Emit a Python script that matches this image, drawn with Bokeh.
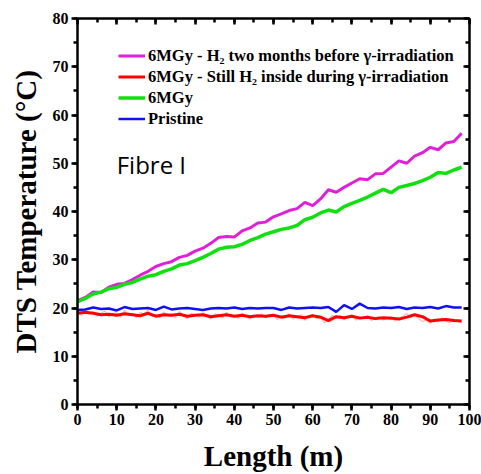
from bokeh.plotting import figure
from bokeh.models import (Range1d, LinearAxis, SingleIntervalTicker, Legend, LegendItem, Label,
                          CustomJSTickFormatter)
from bokeh.embed import file_html
from bokeh.resources import INLINE

# ---- data ----
x_step2 = list(range(0, 100, 2))
magenta = [21.5, 22.2, 23.3, 23.2, 24.3, 24.9, 25.1, 25.9, 26.8, 27.6,
           28.6, 29.2, 29.6, 30.5, 30.9, 31.8, 32.4, 33.4, 34.6, 34.8,
           34.7, 36.0, 36.6, 37.6, 37.8, 38.9, 39.5, 40.2, 40.6, 41.9,
           41.2, 42.6, 44.5, 44.0, 45.0, 45.9, 46.8, 46.6, 47.8, 47.9,
           49.2, 50.5, 50.0, 51.5, 52.2, 53.3, 52.8, 54.2, 54.5, 56.2]
green = [21.3, 22.0, 22.9, 23.3, 24.0, 24.3, 24.9, 25.3, 26.0, 26.6,
         26.9, 27.6, 28.1, 28.9, 29.2, 29.8, 30.5, 31.3, 32.2, 32.6,
         32.7, 33.2, 34.0, 34.6, 35.3, 35.8, 36.3, 36.6, 37.1, 38.3,
         38.8, 39.7, 40.3, 39.9, 41.0, 41.7, 42.3, 43.0, 43.8, 44.6,
         43.9, 45.0, 45.4, 45.8, 46.4, 47.1, 48.1, 47.9, 48.6, 49.2]
red_line = [18.9, 19.1, 18.9, 18.6, 18.7, 18.5, 18.8, 18.6, 18.4, 18.9,
            18.3, 18.6, 18.5, 18.7, 18.3, 18.5, 18.6, 18.2, 18.4, 18.6,
            18.3, 18.5, 18.2, 18.4, 18.3, 18.5, 18.1, 18.4, 18.2, 18.0,
            18.4, 18.1, 17.4, 18.2, 18.0, 18.3, 17.9, 18.1, 17.8, 18.0,
            17.9, 17.7, 18.1, 18.6, 18.2, 17.3, 17.5, 17.6, 17.4, 17.3]
blue = [19.6, 19.7, 20.1, 19.8, 19.9, 19.5, 20.2, 19.8, 19.9, 20.0,
        19.6, 20.3, 19.7, 19.9, 20.0, 19.8, 19.6, 19.9, 20.0, 19.9,
        20.1, 19.8, 20.0, 19.9, 20.0, 20.0, 19.6, 20.1, 19.9, 20.0,
        20.1, 20.0, 20.2, 19.2, 20.6, 19.8, 20.9, 20.0, 19.9, 20.1,
        20.0, 20.2, 19.8, 20.1, 20.0, 20.2, 19.9, 20.4, 20.1, 20.1]
red_pts = [19.6, 18.4, 19.3, 18.7, 19.2, 18.3, 18.9, 19.4, 18.2, 18.8,
           19.0, 18.1, 19.5, 18.5, 18.9, 18.0, 19.1, 18.6, 19.6, 18.2,
           18.7, 17.9, 19.2, 18.4, 18.8, 18.0, 19.3, 18.5, 17.8, 18.9,
           18.6, 18.1, 19.0, 18.3, 17.7, 18.8, 18.5, 17.9, 19.1, 18.2,
           18.6, 17.8, 18.9, 18.4, 17.7, 18.6, 18.1, 18.8, 17.9, 18.5,
           18.7, 17.6, 18.4, 18.0, 18.8, 17.7, 18.3, 18.6, 17.5, 18.2,
           18.7, 17.8, 18.3, 16.9, 17.6, 18.5, 17.9, 18.4, 17.6, 18.1,
           18.6, 17.5, 18.2, 17.8, 18.4, 17.4, 18.0, 18.3, 17.5, 17.9,
           18.2, 17.3, 17.8, 18.3, 18.9, 18.0, 18.7, 17.8, 17.2, 17.5,
           16.8, 17.7, 17.1, 18.0, 17.3, 16.9, 17.8, 17.2, 17.0]
x_step1 = list(range(len(red_pts)))

labels = ["6MGy - H\u2082 two months before \u03b3-irradiation",
          "6MGy - Still H\u2082 inside during \u03b3-irradiation",
          "6MGy",
          "Pristine"]
x_title = "Length (m)"
y_title = "DTS Temperature (\u00b0C)"

SERIF = "Liberation Serif"

p = figure(width=481, height=474, output_backend="svg", toolbar_location=None,
           x_range=Range1d(0, 100), y_range=Range1d(0, 80),
           min_border_left=77, min_border_right=12, min_border_top=18, min_border_bottom=70)
p.xgrid.grid_line_color = None
p.ygrid.grid_line_color = None
p.outline_line_color = None

C_MAG = "#e020d8"
C_RED = "#ff0000"
C_GRN = "#10e010"
C_BLU = "#1010f0"

# noisy raw red readings as a faint band, then the red trace
p.line(x_step1, red_pts, color="#ff5a5a", alpha=0.45, line_width=1.2)
r_red = p.line(x_step2, red_line, color=C_RED, line_width=3)
r_mag = p.line(x_step2, magenta, color=C_MAG, line_width=3)
r_grn = p.line(x_step2, green, color=C_GRN, line_width=3.5)
r_blu = p.line(x_step2, blue, color=C_BLU, line_width=2.5)


def style_axis(ax, inward):
    ax.ticker = SingleIntervalTicker(interval=10, num_minor_ticks=2)
    ax.axis_line_width = 2.5
    ax.major_tick_line_width = 2.5
    ax.minor_tick_line_width = 2.5
    if inward:
        ax.major_tick_in, ax.major_tick_out = 6, 0
        ax.minor_tick_in, ax.minor_tick_out = 4, 0
    else:
        ax.major_tick_in, ax.major_tick_out = 0, 6
        ax.minor_tick_in, ax.minor_tick_out = 0, 4


for ax in (p.xaxis[0], p.yaxis[0]):
    style_axis(ax, False)
    ax.major_label_text_font = SERIF
    ax.major_label_text_font_style = "bold"
    ax.major_label_text_font_size = "16px"
    ax.major_label_text_color = "black"
    ax.major_label_standoff = 3
    ax.axis_label_text_font = SERIF
    ax.axis_label_text_font_style = "bold"
    ax.axis_label_text_font_size = "29px"
    ax.axis_label_text_color = "black"

p.xaxis[0].axis_label = x_title
p.xaxis[0].axis_label_standoff = 12
p.yaxis[0].axis_label = y_title
p.yaxis[0].axis_label_standoff = 8

# mirror axes (frame lines on top and right) with inward ticks, no labels
top = LinearAxis()
right = LinearAxis()
for ax in (top, right):
    style_axis(ax, True)
    ax.formatter = CustomJSTickFormatter(code="return ''")
    ax.major_label_text_font_size = "1px"
    ax.major_label_standoff = 0
p.add_layout(top, "above")
p.add_layout(right, "right")

legend = Legend(items=[
    LegendItem(label=labels[0], renderers=[r_mag]),
    LegendItem(label=labels[1], renderers=[r_red]),
    LegendItem(label=labels[2], renderers=[r_grn]),
    LegendItem(label=labels[3], renderers=[r_blu]),
], location=(41, 275))
legend.label_text_font = SERIF
legend.label_text_font_style = "bold"
legend.label_text_font_size = "16.5px"
legend.label_text_color = "black"
legend.label_height = 21
legend.glyph_height = 21
legend.glyph_width = 27
legend.label_standoff = 3
legend.spacing = 0
legend.padding = 0
legend.margin = 0
legend.border_line_alpha = 0
legend.background_fill_alpha = 0
p.add_layout(legend, "center")

p.add_layout(Label(x=10, y=49.8, text="Fibre I", text_font="Open Sans",
                   text_font_size="24px", text_color="black", text_baseline="alphabetic"))

open("out.html", "w").write(file_html(p, INLINE))
